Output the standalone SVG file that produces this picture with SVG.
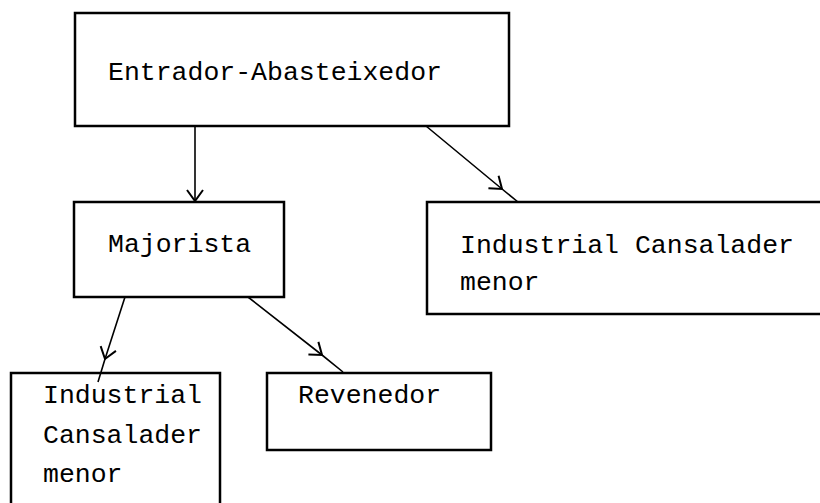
<svg xmlns="http://www.w3.org/2000/svg" width="820" height="503" viewBox="0 0 820 503">
<style>
.box{fill:#fff;stroke:#000;stroke-width:2.5}
.lbl{font-family:"Liberation Mono","DejaVu Sans Mono",monospace;font-size:26.5px;fill:#000}
.con{fill:none;stroke:#000;stroke-width:1.6;marker-mid:url(#v)}
</style>
<defs>
<marker id="v" markerUnits="userSpaceOnUse" markerWidth="30" markerHeight="30" refX="0" refY="0" viewBox="-15 -15 30 30" orient="auto" overflow="visible">
<path d="M-11,-8 L0,0 L-11,8" fill="none" stroke="#000" stroke-width="2"/>
</marker>
</defs>
<rect width="820" height="503" fill="#fff"/>
<g id="entrador">
<rect class="box" x="75" y="13" width="434" height="113"/>
<text class="lbl" x="108" y="80">Entrador-Abasteixedor</text>
</g>
<g id="majorista">
<rect class="box" x="74" y="202" width="210" height="95"/>
<text class="lbl" x="108" y="252">Majorista</text>
</g>
<g id="industrial-right">
<rect class="box" x="427" y="202" width="410" height="112"/>
<text class="lbl" x="460" y="253">Industrial Cansalader</text>
<text class="lbl" x="460" y="290">menor</text>
</g>
<g id="industrial-left">
<rect class="box" x="11" y="373" width="209" height="140"/>
<text class="lbl" x="43" y="403">Industrial</text>
<text class="lbl" x="43" y="443">Cansalader</text>
<text class="lbl" x="43" y="482">menor</text>
</g>
<g id="revenedor">
<rect class="box" x="267" y="373" width="224" height="77"/>
<text class="lbl" x="298" y="403">Revenedor</text>
</g>
<g id="connectors">
<path class="con" d="M195,126 L195,201 L195,202"/>
<path class="con" d="M426,126 L502,189 L518,202"/>
<path class="con" d="M125,297 L105,359 L98,382"/>
<path class="con" d="M248,297 L322,355 L343,372"/>
</g>
</svg>
